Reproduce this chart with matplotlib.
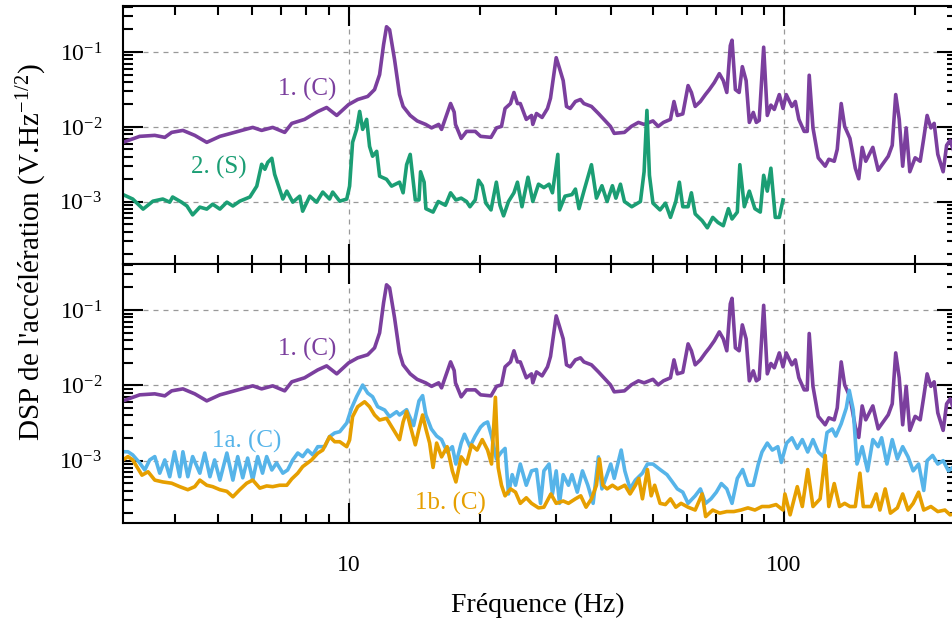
import numpy as np
import matplotlib
matplotlib.use('Agg')
import matplotlib.pyplot as plt
from matplotlib.ticker import LogLocator, FuncFormatter, NullFormatter

plt.rcParams['font.family'] = ['Liberation Serif', 'DejaVu Serif']
plt.rcParams['mathtext.fontset'] = 'custom'
plt.rcParams['mathtext.rm'] = 'Liberation Serif'
plt.rcParams['mathtext.default'] = 'regular'

# 1. (C) - same spectrum in both panels
f_c = [3.03, 3.31, 3.585, 3.78, 3.92, 4.16, 4.43, 4.72, 5.06, 5.47, 6.02, 6.31, 6.69, 7.13, 7.40, 7.92,
       8.49, 8.90, 9.39, 10.0, 10.49, 11.06, 11.47, 11.78, 12.03, 12.22, 12.42, 12.75, 13.09, 13.34,
       13.85, 14.37, 15.03, 15.51, 16.10, 16.35, 17.15, 17.48, 17.6, 18.14, 18.66, 19.54, 20.1, 21.24,
       21.87, 22.45, 22.88, 23.55, 23.98, 24.43, 24.8, 25.6, 26.32, 26.5, 27.02, 27.83, 28.64, 29.10,
       29.72, 29.99, 30.52, 31.12, 31.67, 32.3, 33.2, 34.1, 34.72, 36.14, 37.5, 38.9, 39.96, 40.77,
       43.03, 44.64, 46.34, 47.75, 50.04, 51.46, 52.9, 54.9, 55.93, 56.94, 58.6, 60.26, 61.33, 62.57,
       64.32, 66.04, 67.45, 69.24, 71.1, 72.6, 73.97, 75.35, 76.04, 77.4, 78.96, 80.3, 81.93, 83.33,
       85.1, 86.48, 87.8, 89.9, 91.64, 93.4, 95.1, 97.65, 99.6, 101.3, 104.4, 106.3, 108.3, 111.4,
       113.2, 114.4, 116.7, 120, 124.5, 126.9, 130.6, 132.7, 135.5, 138, 141.9, 146, 148.7, 151.4,
       154.3, 160.2, 164.8, 173.8, 177.5, 180.8, 184.2, 187.6, 191.1, 194.8, 200.4, 205.8, 209.7,
       213.5, 217.8, 221.6, 225.9, 232.4, 236.7, 241.1, 250]
d_c = [0.00622, 0.00748, 0.00771, 0.00725, 0.00845, 0.00898, 0.00771, 0.00622, 0.00748, 0.00845,
       0.00985, 0.00898, 0.00985, 0.00845, 0.01114, 0.0126, 0.01603, 0.01815, 0.01422, 0.0199,
       0.02322, 0.0255, 0.0315, 0.0499, 0.125, 0.217, 0.198, 0.079, 0.027, 0.01875,
       0.01422, 0.01202, 0.0108, 0.0097, 0.0108, 0.00927, 0.02053, 0.01574, 0.0108, 0.00703,
       0.00871, 0.00871, 0.00748, 0.00725, 0.00971, 0.01016, 0.01762, 0.0205, 0.0288, 0.0205,
       0.0205, 0.0126, 0.01422, 0.0108, 0.0151, 0.01337, 0.01762, 0.0242, 0.0582, 0.0839,
       0.0605, 0.0415, 0.01875, 0.01762, 0.02183, 0.02322, 0.0205, 0.01875, 0.0151, 0.01202,
       0.01016, 0.0082, 0.00845, 0.01016, 0.01148, 0.0108, 0.01202, 0.01016, 0.01148, 0.0126,
       0.02183, 0.01422, 0.0149, 0.0356, 0.0288, 0.01875, 0.02183, 0.027, 0.0315, 0.0391,
       0.0514, 0.0415, 0.0288, 0.1213, 0.1436, 0.0315, 0.0288, 0.0637, 0.0415, 0.01148,
       0.0156, 0.01148, 0.0122, 0.1158, 0.01422, 0.01954, 0.0171, 0.027, 0.01762, 0.027,
       0.01875, 0.02183, 0.0126, 0.00871, 0.00871, 0.0489, 0.0097, 0.00387, 0.00299, 0.0037,
       0.00348, 0.00502, 0.0205, 0.01016, 0.00703, 0.00281, 0.00203, 0.00533, 0.00348, 0.00533,
       0.00264, 0.00406, 0.00568, 0.027, 0.0126, 0.00299, 0.0097, 0.00252, 0.00387, 0.00348,
       0.00703, 0.01422, 0.0097, 0.01114, 0.00431, 0.00252, 0.00568, 0.00662, 0.0035]

# 2. (S)
f_s = [3.03, 3.19, 3.37, 3.55, 3.74, 3.88, 3.94, 4.13, 4.25, 4.38, 4.55, 4.72, 4.87, 5.06, 5.25,
       5.42, 5.62, 5.93, 6.15, 6.31, 6.42, 6.52, 6.66, 6.76, 6.94, 7.06, 7.21, 7.44, 7.72, 7.84,
       8.14, 8.44, 8.72, 9.04, 9.19, 9.54, 9.9, 10.05, 10.21, 10.43, 10.6, 10.77, 11.0, 11.17,
       11.35, 11.6, 11.78, 12.22, 12.55, 13.09, 13.34, 13.59, 13.85, 14.23, 14.51, 14.63, 14.91,
       15.05, 15.63, 16.07, 16.69, 17.15, 17.64, 18.14, 18.66, 19.0, 19.54, 19.89, 20.28, 20.67,
       21.24, 21.85, 22.27, 22.7, 23.3, 23.98, 24.43, 25.02, 25.83, 26.5, 27.31, 28.1, 28.88, 29.4,
       30.25, 30.52, 31.42, 32.6, 33.2, 33.84, 34.83, 36.14, 37.11, 38.2, 39.26, 40.38, 41.13,
       42.13, 43.03, 44.73, 46.83, 47.75, 48.47, 49.12, 50.04, 51.95, 53.45, 54.9, 56.47, 57.55,
       58.6, 60.26, 61.33, 62.57, 64.93, 66.73, 68.66, 70.6, 72.6, 74.6, 76.04, 78.2, 79.25, 81.15,
       83.33, 85.82, 88.3, 89.9, 91.64, 93.4, 95.6, 97.65, 99.6]
d_s = [0.00125, 0.00109, 0.00080, 0.00102, 0.00109, 0.00099, 0.00116, 0.00099, 0.00088, 0.00067,
       0.00085, 0.00080, 0.00093, 0.00080, 0.00099, 0.00088, 0.00102, 0.00116, 0.00162, 0.00317,
       0.00272, 0.00337, 0.00381, 0.00233, 0.00148, 0.00109, 0.00139, 0.00099, 0.00119, 0.00075,
       0.00119, 0.00099, 0.00135, 0.00109, 0.00135, 0.00102, 0.00109, 0.00162, 0.00622, 0.00927,
       0.0161, 0.00927, 0.0126, 0.0055, 0.00406, 0.00472, 0.0022, 0.0020, 0.00162, 0.00183,
       0.00132, 0.00313, 0.0043, 0.00106, 0.00106, 0.00252, 0.00183, 0.00081, 0.00073, 0.00101,
       0.0009, 0.00132, 0.00106, 0.00112, 0.00101, 0.00086, 0.00106, 0.00194, 0.00164, 0.00096,
       0.00078, 0.00183, 0.0009, 0.00065, 0.00101, 0.00132, 0.00183, 0.00086, 0.00213, 0.00101,
       0.00172, 0.00155, 0.00172, 0.00132, 0.0043, 0.00078, 0.00119, 0.00125, 0.00148, 0.00081,
       0.00148, 0.00313, 0.00112, 0.00164, 0.00101, 0.00164, 0.00112, 0.00172, 0.00101, 0.00086,
       0.00101, 0.00252, 0.0166, 0.00226, 0.00096, 0.00078, 0.00096, 0.00062, 0.00101, 0.00183,
       0.00086, 0.00086, 0.00132, 0.00069, 0.00056, 0.00045, 0.00062, 0.00053, 0.00048, 0.00081,
       0.00059, 0.00073, 0.00313, 0.00086, 0.00139, 0.00081, 0.00073, 0.00226, 0.00139, 0.00281,
       0.00062, 0.00062, 0.00106]

# 1a. (C)
f_a = [3.03, 3.11, 3.19, 3.31, 3.40, 3.49, 3.585, 3.68, 3.78, 3.88, 3.98, 4.09, 4.16, 4.27, 4.38,
       4.55, 4.67, 4.80, 4.92, 5.06, 5.25, 5.42, 5.56, 5.71, 5.86, 6.02, 6.18, 6.34, 6.48, 6.66,
       6.83, 7.06, 7.24, 7.44, 7.64, 7.84, 8.05, 8.27, 8.49, 8.81, 9.04, 9.29, 9.54, 9.9, 10.16,
       10.43, 10.77, 11.06, 11.35, 11.66, 12.1, 12.42, 12.89, 13.09, 13.59, 14.1, 14.51, 14.79,
       15.05, 15.49, 15.93, 16.35, 16.84, 17.31, 17.64, 18.14, 18.46, 19.0, 19.54, 20.1, 20.47,
       20.86, 21.3, 21.85, 22.45, 22.88, 23.3, 23.76, 24.18, 24.8, 25.6, 26.32, 27.02, 27.6, 28.1,
       28.88, 29.4, 29.99, 30.52, 31.12, 32.0, 32.6, 33.53, 34.46, 35.45, 36.46, 37.5, 38.2, 39.26,
       40.02, 40.77, 42.3, 43.12, 44.33, 45.6, 47.33, 48.6, 50.04, 51.95, 53.9, 55.46, 56.94, 58.6,
       60.26, 62.57, 64.32, 66.13, 68.03, 69.98, 71.86, 73.97, 76.04, 78.2, 80.43, 82.72, 85.1,
       87.4, 89.1, 91.64, 94.1, 96.9, 98.7, 101.5, 104.4, 107.4, 110.3, 113.5, 116.7, 120, 123.4,
       125.7, 129.2, 131.7, 135.5, 139.2, 141.4, 144.4, 147.3, 151.4, 155.8, 160.2, 164.8, 167.8,
       172.6, 177.5, 182.4, 187.6, 193, 198.3, 204.1, 209.7, 213.5, 219.8, 225.9, 232.4, 239, 250]
d_a = [0.00131, 0.00131, 0.00119, 0.00093, 0.00075, 0.00102, 0.00113, 0.00068, 0.00102, 0.00061,
       0.00131, 0.00061, 0.00131, 0.00061, 0.00113, 0.00068, 0.00126, 0.00061, 0.00102, 0.00055,
       0.00126, 0.00055, 0.00113, 0.00059, 0.00108, 0.00055, 0.00113, 0.00068, 0.00113, 0.00075,
       0.00093, 0.00068, 0.00075, 0.00102, 0.00126, 0.00113, 0.00138, 0.00119, 0.00153, 0.00153,
       0.00208, 0.00233, 0.00242, 0.00316, 0.0050, 0.00706, 0.0101, 0.0079, 0.00706, 0.0052,
       0.0047, 0.00383, 0.00446, 0.00404, 0.00475, 0.00292, 0.00622, 0.0073, 0.00404, 0.00263,
       0.00212, 0.0019, 0.0013, 0.00153, 0.0009, 0.00171, 0.00224, 0.00153, 0.00212, 0.00279,
       0.00309, 0.00326, 0.00212, 0.00105, 0.0013, 0.00145, 0.00036, 0.00065, 0.00047, 0.0009,
       0.00047, 0.00073, 0.00076, 0.00027, 0.00073, 0.0009, 0.00036, 0.00073, 0.00027, 0.00065,
       0.00047, 0.00065, 0.00038, 0.00073, 0.00047, 0.00027, 0.00112, 0.00042, 0.00065, 0.0009,
       0.00058, 0.00138, 0.00073, 0.00042, 0.00055, 0.00068, 0.0009, 0.0009, 0.00076, 0.00065,
       0.00052, 0.00042, 0.00038, 0.00027, 0.00034, 0.00042, 0.00027, 0.00031, 0.00038, 0.000495,
       0.00042, 0.00027, 0.00058, 0.00076, 0.00047, 0.00047, 0.0009, 0.0013, 0.00171, 0.00138,
       0.00153, 0.000944, 0.00171, 0.00201, 0.00145, 0.0019, 0.0013, 0.0019, 0.0013, 0.00112,
       0.00236, 0.00263, 0.00212, 0.00309, 0.0050, 0.00859, 0.00475, 0.0009, 0.00153, 0.00073,
       0.0019, 0.00153, 0.00201, 0.0009, 0.0019, 0.00105, 0.00153, 0.00112, 0.00073, 0.0009,
       0.0004, 0.000997, 0.00117, 0.0009, 0.000997, 0.00073, 0.0009]

# 1b. (C)
f_b = [3.03, 3.11, 3.19, 3.35, 3.46, 3.585, 3.74, 3.92, 4.09, 4.27, 4.43, 4.55, 4.72, 4.87, 5.06,
       5.25, 5.42, 5.62, 5.83, 6.02, 6.25, 6.48, 6.69, 6.94, 7.21, 7.40, 7.64, 7.84, 8.22, 8.49,
       8.72, 9.04, 9.29, 9.54, 9.9, 10.05, 10.21, 10.49, 10.88, 11.17, 11.47, 11.78, 12.22, 12.62,
       13.09, 13.34, 13.59, 13.85, 14.23, 14.51, 14.79, 15.05, 15.35, 15.63, 15.93, 16.35, 16.84,
       17.31, 17.64, 18.14, 18.66, 19.16, 19.73, 20.28, 20.86, 21.3, 21.74, 22.06, 22.45, 22.88,
       23.55, 24.18, 24.8, 25.6, 26.32, 27.31, 28.1, 29.16, 29.99, 31.12, 32.0, 33.2, 34.15, 35.12,
       36.14, 37.11, 37.7, 38.4, 39.26, 40.38, 41.53, 43.12, 44.33, 45.6, 46.44, 47.33, 48.6, 49.58,
       50.5, 51.95, 53.45, 54.9, 56.47, 58.07, 60.26, 62.57, 64.93, 66.13, 68.66, 71.26, 73.97,
       76.78, 79.7, 82.72, 85.82, 89.1, 92.5, 96.0, 99.6, 100.6, 103.4, 107.4, 110.3, 113.5, 116.7,
       121.2, 124.5, 126.9, 130.6, 134.3, 138, 141.9, 146, 149.6, 152.3, 158.7, 163.1, 166.3, 171,
       175.8, 182.4, 187.6, 193, 198.3, 204.1, 209.7, 217.8, 225.9, 234.6, 241.1, 250]
d_b = [0.00102, 0.00113, 0.00102, 0.00064, 0.00071, 0.00055, 0.00052, 0.0005, 0.00045, 0.00041,
       0.00045, 0.00055, 0.00047, 0.00045, 0.00041, 0.00039, 0.00033, 0.00041, 0.0005, 0.00055,
       0.00043, 0.00046, 0.00045, 0.00047, 0.00047, 0.00057, 0.00068, 0.00083, 0.00102, 0.00125,
       0.00138, 0.00208, 0.00178, 0.00178, 0.00153, 0.00188, 0.00383, 0.0052, 0.00605, 0.0052,
       0.00404, 0.00346, 0.00365, 0.00269, 0.0019, 0.00326, 0.0045, 0.00292, 0.00162, 0.00263,
       0.00404, 0.00263, 0.00171, 0.00081, 0.00171, 0.00112, 0.00153, 0.00073, 0.00052, 0.00112,
       0.0009, 0.00162, 0.00138, 0.0019, 0.00138, 0.0009, 0.00693, 0.00081, 0.00047, 0.00034,
       0.00042, 0.00038, 0.00027, 0.00032, 0.00027, 0.000235, 0.00024, 0.00036, 0.00027, 0.00029,
       0.00027, 0.00031, 0.00034, 0.00024, 0.00031, 0.00047, 0.00105, 0.00047, 0.00042, 0.00047,
       0.00042, 0.00047, 0.00036, 0.00047, 0.00058, 0.00031, 0.00076, 0.00034, 0.00047, 0.00027,
       0.00026, 0.00031, 0.00024, 0.00027, 0.00024, 0.00022, 0.00036, 0.00018, 0.00022, 0.0002,
       0.00021, 0.00021, 0.00022, 0.000235, 0.00022, 0.000245, 0.000245, 0.00026, 0.00022, 0.00036,
       0.00019, 0.00045, 0.000245, 0.00076, 0.000245, 0.00031, 0.00117, 0.000245, 0.000495, 0.000245,
       0.00027, 0.000245, 0.000245, 0.00068, 0.000245, 0.000245, 0.00036, 0.00022, 0.00042, 0.0002,
       0.000235, 0.00036, 0.00022, 0.00027, 0.00038, 0.00022, 0.000245, 0.00021, 0.00022, 0.00019,
       0.0002]

purple = '#7b3f9e'
green = '#1b9e74'
blue = '#56b4e9'
orange = '#e69f00'

fig = plt.figure(figsize=(9.52, 6.23), dpi=100)
ax1 = fig.add_axes([0.1292, 0.5762, 0.876, 0.4141])
ax2 = fig.add_axes([0.1292, 0.1605, 0.876, 0.4157])

lw = 2.6
ax1.plot(f_c, d_c, color=purple, lw=lw)
ax1.plot(f_s, d_s, color=green, lw=lw)
ax2.plot(f_c, d_c, color=purple, lw=lw)
ax2.plot(f_a, d_a, color=blue, lw=lw)
ax2.plot(f_b, d_b, color=orange, lw=lw)

ax1.text(8.05, 0.0316, '1. (C)', color=purple, fontsize=18, ha='center', va='center')
ax1.text(5.03, 0.00289, '2. (S)', color=green, fontsize=18, ha='center', va='center')
ax2.text(8.05, 0.03, '1. (C)', color=purple, fontsize=18, ha='center', va='center')
ax2.text(5.83, 0.00178, '1a. (C)', color=blue, fontsize=18, ha='center', va='center')
ax2.text(17.15, 0.000273, '1b. (C)', color=orange, fontsize=18, ha='center', va='center')

for ax in (ax1, ax2):
    ax.set_xscale('log')
    ax.set_yscale('log')
    ax.set_xlim(3.03, 250)
    ax.set_ylim(10**-3.83, 10**-0.387)
    ax.xaxis.set_major_locator(LogLocator(base=10, numticks=10))
    ax.xaxis.set_minor_locator(LogLocator(base=10, subs=np.arange(2, 10), numticks=20))
    ax.yaxis.set_major_locator(LogLocator(base=10, numticks=10))
    ax.yaxis.set_minor_locator(LogLocator(base=10, subs=np.arange(2, 10), numticks=20))
    ax.xaxis.set_minor_formatter(NullFormatter())
    ax.yaxis.set_minor_formatter(NullFormatter())
    ax.yaxis.set_major_formatter(FuncFormatter(lambda v, p: '10$^{%d}$' % round(np.log10(v))))
    ax.xaxis.set_major_formatter(FuncFormatter(lambda v, p: '%d' % round(v)))
    ax.tick_params(which='both', direction='in', top=True, right=True, width=1.5, labelsize=17)
    ax.tick_params(axis='x', which='major', length=14.5, pad=23)
    ax.tick_params(axis='x', which='minor', length=6.5)
    ax.tick_params(axis='y', which='major', length=14.5, pad=15)
    ax.tick_params(axis='y', which='minor', length=7.2)
    ax.grid(True, which='major', ls=(0, (4, 4)), color='#999999', lw=0.9)
    for s in ax.spines.values():
        s.set_linewidth(1.5)

ax1.tick_params(axis='x', labelbottom=False)

fig.text(0.565, 0.029, 'Fréquence (Hz)', fontsize=20, ha='center', va='center')
fig.text(0.034, 0.595, "DSP de l'accélération (V.Hz$^{-1/2}$)", fontsize=21,
         rotation=90, ha='center', va='center')

fig.savefig('out.png', dpi=100)
